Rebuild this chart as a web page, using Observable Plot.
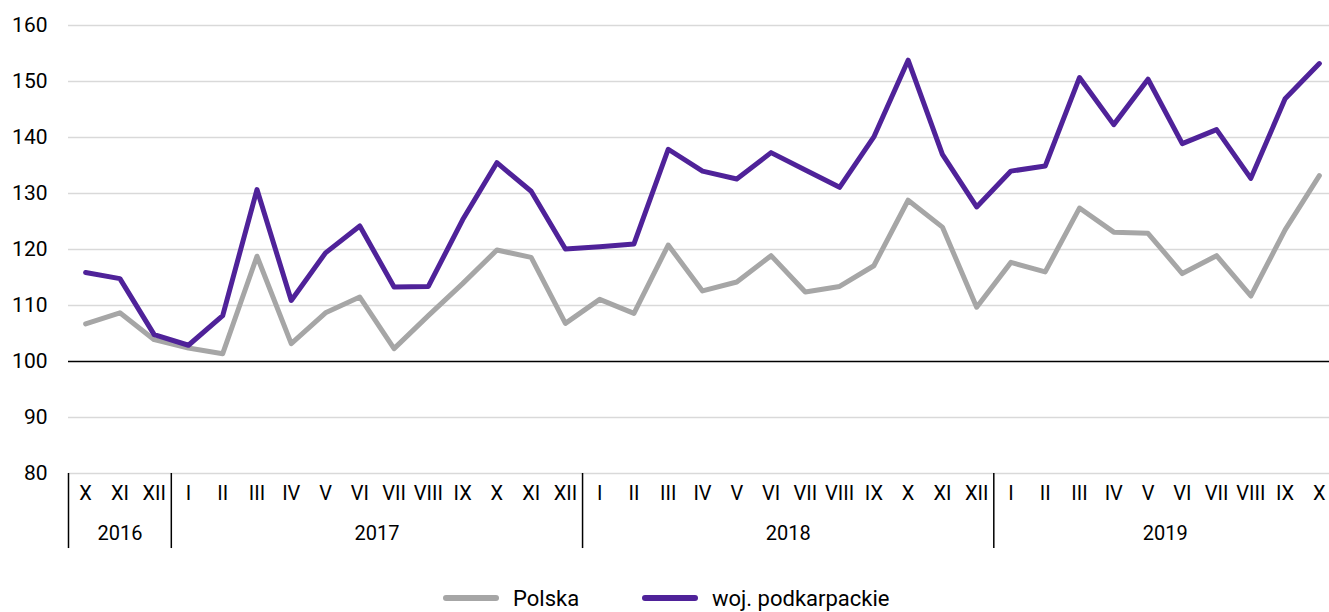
<!DOCTYPE html>
<html>
<head>
<meta charset="utf-8">
<script src="https://cdn.jsdelivr.net/npm/d3@7"></script>
<script src="https://cdn.jsdelivr.net/npm/@observablehq/plot@0.6"></script>
<style>
  html, body { margin: 0; padding: 0; background: #fff; }
  #chart { width: 1329px; height: 612px; overflow: hidden; position: relative; }
  .legend { position: absolute; top: 584px; left: 0; width: 1329px; height: 28px;
            font-family: "Roboto", sans-serif; font-size: 22px; color: #000; }
  .legend .item { position: absolute; top: 0; display: flex; align-items: center; height: 28px; }
  .legend .sw { display: inline-block; width: 56px; height: 6px; border-radius: 3px; margin-right: 14px; }
</style>
</head>
<body>
<div id="chart"></div>
<script>
const months = ["X","XI","XII",
  "I","II","III","IV","V","VI","VII","VIII","IX","X","XI","XII",
  "I","II","III","IV","V","VI","VII","VIII","IX","X","XI","XII",
  "I","II","III","IV","V","VI","VII","VIII","IX","X"];
const years = ["2016","2017","2018","2019"];
const yearStart = [0, 3, 15, 27];
const yearEnd = [2, 14, 26, 36];
const polska = [106.7,108.7,103.9,
  102.4,101.4,118.8,103.2,108.7,111.5,102.3,108.2,113.9,119.9,118.6,106.8,
  111.1,108.6,120.8,112.6,114.2,118.9,112.4,113.4,117.1,128.8,124.0,109.7,
  117.7,116.0,127.4,123.1,122.9,115.7,118.9,111.7,123.5,133.2];
const podkarpackie = [115.9,114.8,104.8,
  102.9,108.2,130.7,110.9,119.4,124.2,113.3,113.4,125.3,135.5,130.4,120.1,
  120.5,121.0,137.9,134.0,132.6,137.3,134.2,131.1,140.1,153.8,137.0,127.6,
  134.0,134.9,150.7,142.3,150.4,138.9,141.4,132.7,146.9,153.2];
const yTicks = [80,90,100,110,120,130,140,150,160];
const seriesNames = ["Polska","woj. podkarpackie"];
const seriesColors = ["#a6a6a6","#4f2299"];

const rows = [];
months.forEach((m, i) => {
  rows.push({i, v: polska[i], s: seriesNames[0]});
  rows.push({i, v: podkarpackie[i], s: seriesNames[1]});
});
const separators = [-0.5, ...yearEnd.slice(0, 3).map(e => e + 0.5)];
const yearLabels = years.map((y, k) => ({y, c: (yearStart[k] + yearEnd[k]) / 2}));

const font = "'Roboto', sans-serif";

const plot = Plot.plot({
  width: 1329,
  height: 584,
  marginTop: 25,
  marginBottom: 111,
  marginLeft: 68,
  marginRight: 0,
  style: {fontFamily: font, fontSize: "20px", color: "#000", background: "#fff", overflow: "visible"},
  x: {type: "linear", domain: [-0.5, 36.5], range: [68, 1336]},
  y: {domain: [80, 160], range: [473, 25]},
  color: {domain: seriesNames, range: seriesColors},
  marks: [
    Plot.ruleY(yTicks.filter(t => t !== 100), {stroke: "#d9d9d9", strokeWidth: 1.5}),
    Plot.axisY(yTicks, {tickSize: 0, tickPadding: 21, fontSize: 21, label: null, textAnchor: "end"}),
    Plot.axisX(months.map((m, i) => i), {
      tickSize: 0, tickPadding: 12, label: null, fontSize: 20,
      tickFormat: i => months[i]
    }),
    Plot.ruleX(separators, {y1: 80, y2: 66.6, stroke: "#000", strokeWidth: 1.5}),
    Plot.text(yearLabels, {x: "c", y: 69.3, text: "y", fontSize: 20, fill: "#000"}),
    Plot.line(rows, {x: "i", y: "v", z: "s", stroke: "s", strokeWidth: 5,
      strokeLinejoin: "round", strokeLinecap: "round"}),
    Plot.ruleY([100], {stroke: "#000", strokeWidth: 1.5})
  ]
});
document.getElementById("chart").appendChild(plot);

const legend = document.createElement("div");
legend.className = "legend";
const lx = [443, 642];
seriesNames.forEach((n, k) => {
  const it = document.createElement("div");
  it.className = "item";
  it.style.left = lx[k] + "px";
  const sw = document.createElement("span");
  sw.className = "sw";
  sw.style.background = seriesColors[k];
  const t = document.createElement("span");
  t.textContent = n;
  it.appendChild(sw); it.appendChild(t);
  legend.appendChild(it);
});
document.getElementById("chart").appendChild(legend);
</script>
</body>
</html>
